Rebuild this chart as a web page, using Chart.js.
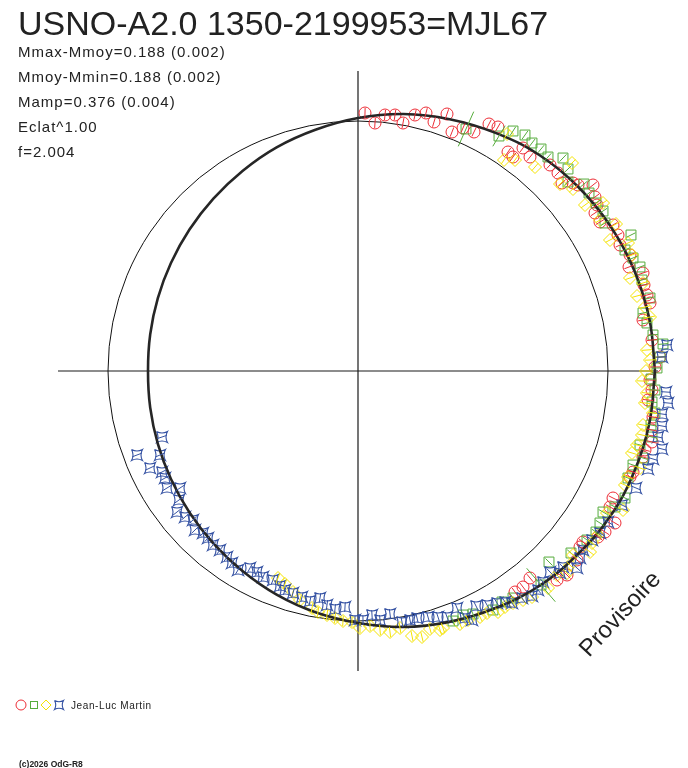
<!DOCTYPE html>
<html>
<head>
<meta charset="utf-8">
<title>USNO-A2.0 1350-2199953=MJL67</title>
<script src="https://cdn.jsdelivr.net/npm/chart.js@4.4.1/dist/chart.umd.min.js"></script>
<style>
    html, body { margin: 0; padding: 0; background: #fff; overflow: hidden; }
    #wrap { width: 688px; height: 768px; position: relative; }
</style>
</head>
<body>
<div id="wrap"><canvas id="phaseChart"></canvas></div>
<script>
// Texts
const titleText = 'USNO-A2.0 1350-2199953=MJL67';
const infoLines = ['Mmax-Mmoy=0.188 (0.002)', 'Mmoy-Mmin=0.188 (0.002)', 'Mamp=0.376 (0.004)', 'Eclat^1.00', 'f=2.004'];
const observerName = 'Jean-Luc Martin';
const copyrightText = '(c)2026 OdG-R8';
const stampText = 'Provisoire';

// Scale range, axis lines extent, reference circle radius, default error bar (plot units)
const xMin = -320;
const xMax = 315;
const yMin = -320;
const yMax = 320;
const axisLimit = 300;
const refRadius = 250;
const errDefault = 5;

// Fitted curve: radius at each phase angle (degrees, counter-clockwise from +x)
const curvePhase = [0, 10, 20, 30, 40, 50, 60, 70, 80, 90, 100, 110, 120, 130, 140, 150, 160, 170,
    180, 190, 200, 210, 220, 230, 240, 250, 260, 270, 280, 290, 300, 310, 320, 330, 340, 350, 360];
const curveRadius = [297, 296, 294, 291, 287, 282, 275, 268, 261, 253, 245, 238, 231, 225, 220, 216, 213, 211,
    210, 211, 213, 216, 220, 225, 231, 238, 245, 252, 260, 267, 274, 281, 286, 291, 294, 296, 297];

// Observations [x, y] or [x, y, error]
const redPts = [
    [7,258],[17,248],[27,256],[37,256],[45,248],[57,256],[68,258],[76,249],[89,257],[94,239],
    [105,243],[116,239],[131,247],[140,244],[150,219],[155,214],[165,223],[172,214],[192,206],[200,198],
    [204,188],[215,188],[220,186],[235,186],[237,174],[239,166],[237,158],[242,149],[255,146],[260,136],
    [262,126],[272,116],[271,104],[285,98],[286,86],[289,76],[292,68],[285,51],[294,31],[302,14],
    [297,4],[292,-9],[294,-19],[290,-29],[295,-46],[294,-59],[294,-71],[287,-79],[285,-86],[275,-101],
    [272,-106],[255,-127],[252,-136],[257,-152],[247,-161],[240,-166],[225,-171],[222,-176],[219,-189],[209,-204],
    [199,-209],[172,-207],[165,-216],[157,-221]
];
const greenPts = [
    [108,242,19],[141,235,12],[155,240],[167,236],[174,228],[183,222],[190,214],[205,213],[210,202],[210,189],
    [226,187],[231,178],[238,168],[245,160],[247,148],[273,136],[267,121],[275,113],[282,104],[284,91],
    [292,73],[285,58],[289,48],[295,36],[305,27],[302,14],[299,3],[293,-8],[297,-19],[294,-31],
    [297,-42],[293,-54],[294,-66],[282,-74],[285,-87],[275,-94],[270,-107],[267,-127],[257,-136],[245,-141],
    [242,-152],[238,-161],[229,-169],[213,-182],[191,-191],[183,-214,22],[155,-227],[144,-231],[135,-239],[115,-243],
    [105,-244],[95,-250]
];
const yellowPts = [
    [149,237],[146,211],[157,211],[177,204],[214,208],[202,187],[215,182],[227,166],[245,168],[242,151],
    [258,147],[252,131],[270,128],[274,116],[272,93],[285,88],[279,75],[287,64],[292,54],[289,21],
    [292,11],[288,0],[284,-10],[289,-22],[287,-32],[295,-42],[285,-54],[284,-64],[279,-74],[274,-82],
    [282,-97],[270,-106],[267,-114],[265,-139],[249,-142],[240,-164],[234,-172],[232,-181],[215,-184],[212,-194],
    [209,-202],[199,-204],[190,-217],[174,-226],[165,-229],[155,-232],[147,-236],[140,-241],[129,-242],[122,-246],
    [110,-249],[102,-253],[85,-257],[82,-259],[72,-258],[64,-266],[54,-265],[42,-257],[32,-261],[22,-259],
    [12,-255],[2,-257],[-6,-251],[-15,-250],[-23,-247],[-31,-244],[-40,-241],[-46,-237],[-58,-229],[-65,-221],
    [-73,-213],[-80,-207]
];
const bluePts = [
    [309,26],[304,14],[308,-21],[310,-32],[304,-43],[304,-55],[300,-66],[304,-78],[295,-88],[290,-98],
    [278,-117],[264,-134],[250,-151],[242,-162],[234,-169],[225,-179],[222,-187],[219,-197],[205,-196],[202,-202],
    [192,-201],[185,-211],[180,-219],[174,-225],[164,-227],[154,-232],[147,-231],[139,-232],[129,-234],[118,-235],
    [114,-249],[107,-247],[99,-237],[89,-246],[80,-246],[70,-246],[59,-247],[52,-249],[44,-251],[32,-243],
    [22,-249],[14,-244],[5,-249],[-3,-249],[-13,-236],[-23,-238],[-31,-234],[-38,-227],[-48,-230],[-56,-226],
    [-65,-222],[-73,-219],[-78,-215],[-85,-209],[-95,-206],[-101,-201],[-108,-197],[-120,-199],[-126,-192],[-131,-186],
    [-138,-179],[-145,-174],[-150,-167],[-155,-162],[-163,-159],[-165,-149],[-173,-146],[-181,-141],[-179,-129],[-178,-117],
    [-191,-117],[-193,-107],[-196,-101],[-208,-97],[-198,-84],[-221,-84],[-196,-66]
];

const RED = '#ec2d36';
const GREEN = '#55ac3b';
const YELLOW = '#f4e300';
const BLUE = '#3552a3';
const INK = '#222222';
const FONT = '"Liberation Sans", Arial, sans-serif';

function toXY(pts) {
    return pts.map(p => ({ x: p[0], y: p[1] }));
}

function toErr(pts) {
    return pts.map(p => (p.length > 2 ? p[2] : errDefault));
}

function curveXY() {
    return curvePhase.map((deg, i) => {
        const a = deg * Math.PI / 180;
        return { x: curveRadius[i] * Math.cos(a), y: curveRadius[i] * Math.sin(a) };
    });
}

// Four-pointed star with concave sides, used for the blue series
function makeStar(size, color) {
    const c = document.createElement('canvas');
    c.width = size;
    c.height = size;
    const ctx = c.getContext('2d');
    const m = size / 2;
    const h = size / 2 - 1.5;
    const k = h * 0.45;
    ctx.strokeStyle = color;
    ctx.lineWidth = 1.1;
    ctx.beginPath();
    ctx.moveTo(m - h, m - h);
    ctx.quadraticCurveTo(m, m - k, m + h, m - h);
    ctx.quadraticCurveTo(m + k, m, m + h, m + h);
    ctx.quadraticCurveTo(m, m + k, m - h, m + h);
    ctx.quadraticCurveTo(m - k, m, m - h, m - h);
    ctx.stroke();
    return c;
}

const blueStar = makeStar(14, BLUE);
const legendStar = makeStar(12, BLUE);

// Reference circle and radial error bars
const polarDecor = {
    id: 'polarDecor',
    beforeDatasetsDraw(chart) {
        const ctx = chart.ctx;
        const xs = chart.scales.x;
        const ys = chart.scales.y;
        const cx = xs.getPixelForValue(0);
        const cy = ys.getPixelForValue(0);
        const rx = xs.getPixelForValue(refRadius) - cx;
        const ry = cy - ys.getPixelForValue(refRadius);
        ctx.save();
        ctx.strokeStyle = '#111';
        ctx.lineWidth = 1;
        ctx.beginPath();
        ctx.ellipse(cx, cy, rx, ry, 0, 0, Math.PI * 2);
        ctx.stroke();
        ctx.restore();
    },
    afterDatasetsDraw(chart) {
        const ctx = chart.ctx;
        const xs = chart.scales.x;
        const cx = xs.getPixelForValue(0);
        const cy = chart.scales.y.getPixelForValue(0);
        const unit = xs.getPixelForValue(1) - cx;
        ctx.save();
        ctx.lineWidth = 1;
        chart.data.datasets.forEach((ds, i) => {
            if (!ds.errs) return;
            ctx.strokeStyle = ds.errColor;
            chart.getDatasetMeta(i).data.forEach((pt, j) => {
                const dx = pt.x - cx;
                const dy = pt.y - cy;
                const len = Math.hypot(dx, dy) || 1;
                const half = ds.errs[j] * unit;
                ctx.beginPath();
                ctx.moveTo(pt.x - dx / len * half, pt.y - dy / len * half);
                ctx.lineTo(pt.x + dx / len * half, pt.y + dy / len * half);
                ctx.stroke();
            });
        });
        ctx.restore();
    }
};

// Title, statistics, observer legend, stamp
const textDecor = {
    id: 'textDecor',
    afterDraw(chart) {
        const ctx = chart.ctx;
        ctx.save();
        ctx.fillStyle = INK;
        ctx.textBaseline = 'alphabetic';
        ctx.textAlign = 'left';

        ctx.font = '34px ' + FONT;
        ctx.fillText(titleText, 18, 35);

        ctx.font = '15px ' + FONT;
        if ('letterSpacing' in ctx) ctx.letterSpacing = '1px';
        infoLines.forEach((line, i) => ctx.fillText(line, 18, 57 + i * 25));

        // observer legend
        const ly = 705;
        ctx.lineWidth = 1;
        ctx.strokeStyle = RED;
        ctx.beginPath();
        ctx.arc(21, ly, 5, 0, Math.PI * 2);
        ctx.stroke();
        ctx.strokeStyle = GREEN;
        ctx.strokeRect(30.5, ly - 3.5, 7, 7);
        ctx.strokeStyle = YELLOW;
        ctx.beginPath();
        ctx.moveTo(46, ly - 5);
        ctx.lineTo(51, ly);
        ctx.lineTo(46, ly + 5);
        ctx.lineTo(41, ly);
        ctx.closePath();
        ctx.stroke();
        ctx.drawImage(legendStar, 59 - 6, ly - 6);

        ctx.font = '10px ' + FONT;
        if ('letterSpacing' in ctx) ctx.letterSpacing = '0.6px';
        ctx.fillText(observerName, 71, ly + 4);

        ctx.font = 'bold 8.5px ' + FONT;
        if ('letterSpacing' in ctx) ctx.letterSpacing = '0px';
        ctx.fillText(copyrightText, 19, 767);

        // "Provisoire" stamp
        ctx.font = '24px ' + FONT;
        ctx.translate(589, 658);
        ctx.rotate(-47 * Math.PI / 180);
        ctx.fillText(stampText, 0, 0);
        ctx.restore();
    }
};

function markerSet(label, pts, color, style, radius, order) {
    return {
        type: 'scatter',
        label: label,
        data: toXY(pts),
        errs: toErr(pts),
        errColor: color,
        pointStyle: style,
        pointRadius: radius,
        borderColor: color,
        backgroundColor: 'rgba(0,0,0,0)',
        pointBorderWidth: 1,
        clip: false,
        order: order
    };
}

const axisColor = '#1a1a1a';

const config = {
    type: 'scatter',
    data: {
        datasets: [
            {
                type: 'line',
                label: 'fit',
                data: curveXY(),
                borderColor: '#262626',
                borderWidth: 2.6,
                pointRadius: 0,
                tension: 0.4,
                fill: false,
                clip: false,
                order: 0
            },
            markerSet('red', redPts, RED, 'circle', 6, 4),
            markerSet('green', greenPts, GREEN, 'rect', 7, 3),
            markerSet('yellow', yellowPts, YELLOW, 'rectRot', 6.5, 2),
            markerSet('blue', bluePts, BLUE, blueStar, 7, 1),
            {
                type: 'line',
                label: 'axisX',
                data: [{ x: -axisLimit, y: 0 }, { x: axisLimit, y: 0 }],
                borderColor: axisColor,
                borderWidth: 1.2,
                pointRadius: 0,
                order: 5
            },
            {
                type: 'line',
                label: 'axisY',
                data: [{ x: 0, y: -axisLimit }, { x: 0, y: axisLimit }],
                borderColor: axisColor,
                borderWidth: 1.2,
                pointRadius: 0,
                order: 5
            }
        ]
    },
    options: {
        responsive: true,
        maintainAspectRatio: false,
        animation: false,
        events: [],
        layout: {
            padding: { left: 38, right: 15, top: 51, bottom: 77 }
        },
        scales: {
            x: { type: 'linear', min: xMin, max: xMax, display: false },
            y: { type: 'linear', min: yMin, max: yMax, display: false }
        },
        plugins: {
            legend: { display: false },
            tooltip: { enabled: false },
            title: { display: false }
        }
    },
    plugins: [polarDecor, textDecor]
};

document.addEventListener('DOMContentLoaded', function() {
    new Chart(document.getElementById('phaseChart'), config);
});
</script>
</body>
</html>
